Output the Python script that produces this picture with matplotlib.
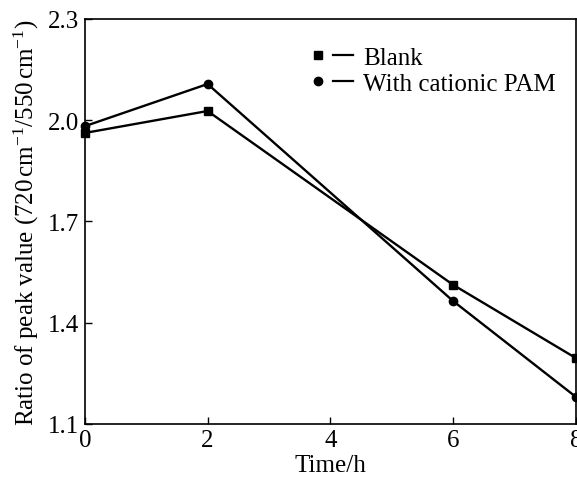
import matplotlib.pyplot as plt
from matplotlib.lines import Line2D
from matplotlib.legend_handler import HandlerTuple

# Data
time_h = [0, 2, 6, 8]
blank = [1.962, 2.027, 1.512, 1.295]
cationic_pam = [1.982, 2.107, 1.464, 1.180]

x_ticks = [0, 2, 4, 6, 8]
y_ticks = [1.1, 1.4, 1.7, 2.0, 2.3]

plt.rcParams['font.family'] = ['Liberation Serif', 'DejaVu Serif']
plt.rcParams['mathtext.fontset'] = 'custom'
plt.rcParams['mathtext.rm'] = 'Liberation Serif'
plt.rcParams['mathtext.it'] = 'Liberation Serif:italic'

fig = plt.figure(figsize=(5.77, 4.85), dpi=100)
ax = fig.add_axes([0.147, 0.124, 0.851, 0.835])

ax.plot(time_h, blank, color='black', lw=1.7, marker='s', ms=6, clip_on=False)
ax.plot(time_h, cationic_pam, color='black', lw=1.7, marker='o', ms=6, clip_on=False)

ax.set_xlim(0, 8)
ax.set_ylim(1.1, 2.3)
ax.set_xticks(x_ticks)
ax.set_yticks(y_ticks)
ax.set_yticklabels([f"{v:.1f}" for v in y_ticks])
ax.tick_params(direction='in', length=5, width=1, labelsize=18, pad=4)
for sp in ax.spines.values():
    sp.set_linewidth(1.2)

ax.set_xlabel("Time/h", fontsize=18, labelpad=2)
ax.set_ylabel(r"Ratio of peak value (720$\,$cm$^{-1}$/550$\,$cm$^{-1}$)", fontsize=18, labelpad=5)

# Legend: marker, then a short line, then the label
h_blank = (Line2D([], [], color='black', marker='s', ms=6, ls='none'),
           Line2D([], [], color='black', lw=1.6))
h_pam = (Line2D([], [], color='black', marker='o', ms=6, ls='none'),
         Line2D([], [], color='black', lw=1.6))
ax.legend([h_blank, h_pam], ["Blank", "With cationic PAM"],
          handler_map={tuple: HandlerTuple(ndivide=None, pad=0.2)},
          loc='upper left', bbox_to_anchor=(0.434, 0.957), frameon=False,
          fontsize=18, handlelength=1.8, handletextpad=0.4, labelspacing=0.15,
          borderaxespad=0)

fig.savefig("out.png", dpi=100)
